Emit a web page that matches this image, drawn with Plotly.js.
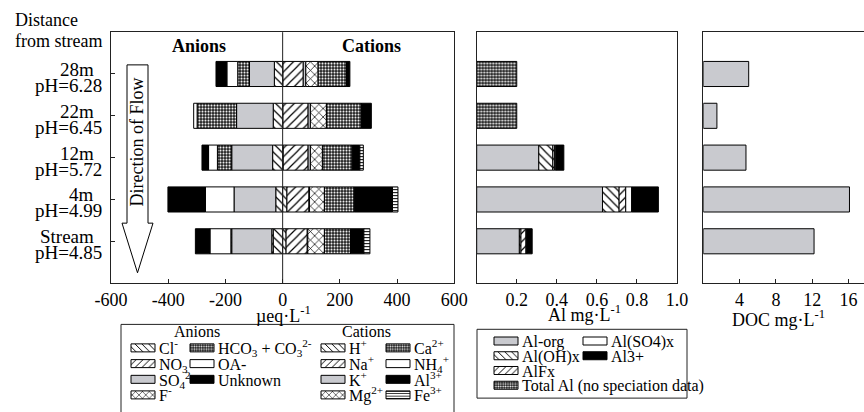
<!DOCTYPE html>
<html><head><meta charset="utf-8">
<script src="https://cdn.plot.ly/plotly-3.0.1.min.js"></script>
<style>html,body{margin:0;padding:0;overflow:hidden;background:#fff}</style>
</head><body><div id="chart"></div>
<script>
// ---------- data ----------
const sites = ['Stream', '4m', '12m', '22m', '28m'];
const siteLabels = ['Stream', '4m', '12m', '22m', '28m'];
const pHLabels = ['pH=4.85', 'pH=4.99', 'pH=5.72', 'pH=6.45', 'pH=6.28'];

// anions, µeq/L (drawn left of zero)
const cl      = [-33, -24, -35, -33, -29];
const no3     = [-5, null, null, null, null];
const so4     = [-140, -146, -143, -128, -87];
const fl      = [-3, null, null, null, null];
const hco3    = [null, null, -50, -138, -41];
const oa      = [-73, -100, -31, -12, -38];
const unknown = [-51, -131, -23, null, -38];
// cations, µeq/L
const hplus = [12, 15, 2, 1, 1];
const na    = [74, 77, 87, 88, 71];
const kplus = [2, 2, 8, 8, 9];
const mg    = [58, 52, 42, 56, 43];
const ca    = [91, 104, 104, 122, 99];
const nh4   = [null, null, null, null, null];
const al3c  = [47, 134, 27, 35, 12];
const fe    = [21, 19, 12, null, null];
// Al species, mg/L
const alOrg   = [0.213, 0.628, 0.31, null, null];
const alOH    = [0.008, 0.083, 0.07, null, null];
const alF     = [0.025, 0.033, 0.008, null, null];
const alSO4   = [0.004, 0.03, 0.007, null, null];
const al3     = [0.027, 0.133, 0.04, null, null];
const alTotal = [null, null, null, 0.2, 0.2];
// DOC, mg/L
const doc = [12.2, 16.1, 4.7, 1.5, 5.0];

const ionTicks = [-600, -400, -200, 0, 200, 400, 600];
const ionTickText = ['-600', '-400', '-200', '0', '200', '400', '600'];
const alTicks = [0.2, 0.4, 0.6, 0.8, 1.0];
const alTickText = ['0.2', '0.4', '0.6', '0.8', '1.0'];
const docTicks = [4, 8, 12, 16];
const docTickText = ['4', '8', '12', '16'];

// ---------- styling ----------
const FONT = 'Liberation Serif, Times New Roman, serif';
const GRAY = '#c9cacf';
const W = 864, H = 412;
const px = x => x / W, py = y => 1 - y / H;

function mk(kind) {
  const line = {color: 'black', width: 1};
  const pat = (shape, size, sol, fg, bg) => ({color: bg || 'white', line, pattern: {shape, size, solidity: sol, fgcolor: fg || 'black', bgcolor: bg || 'white', fillmode: 'replace'}});
  switch (kind) {
    case 'back': return pat('\\', 6, 0.2);
    case 'fwd': return pat('/', 6, 0.2);
    case 'cross': return pat('x', 6, 0.22);
    case 'dots': return pat('.', 3, 0.4, 'white', '#1a1a1a');
    case 'hline': return pat('-', 3, 0.35);
    case 'gray': return {color: GRAY, line};
    case 'white': return {color: 'white', line};
    case 'black': return {color: 'black', line};
  }
}

const legendNames = [];
function bar(x, name, kind, xa, ya, legendPos) {
  const t = {type: 'bar', orientation: 'h', y: sites, x, name, marker: mk(kind), xaxis: xa, yaxis: ya, hoverinfo: 'skip'};
  if (legendPos) {
    const id = legendNames.length === 0 ? 'legend' : 'legend' + (legendNames.length + 1);
    legendNames.push({id, pos: legendPos});
    t.legend = id;
    t.showlegend = true;
  } else t.showlegend = false;
  return t;
}

const data = [
  bar(cl, 'Cl<sup>-</sup>', 'back', 'x', 'y', [131, 354]),
  bar(no3, 'NO<sub>3</sub>', 'fwd', 'x', 'y', [131, 370]),
  bar(so4, 'SO<sub>4</sub><sup>2-</sup>', 'gray', 'x', 'y', [131, 386]),
  bar(fl, 'F<sup>-</sup>', 'cross', 'x', 'y', [131, 402]),
  bar(hco3, 'HCO<sub>3</sub> + CO<sub>3</sub><sup>2-</sup>', 'dots', 'x', 'y', [190, 354]),
  bar(oa, 'OA-', 'white', 'x', 'y', [190, 370]),
  bar(unknown, 'Unknown', 'black', 'x', 'y', [190, 386]),
  bar(hplus, 'H<sup>+</sup>', 'back', 'x', 'y', [321, 354]),
  bar(na, 'Na<sup>+</sup>', 'fwd', 'x', 'y', [321, 370]),
  bar(kplus, 'K<sup>+</sup>', 'gray', 'x', 'y', [321, 386]),
  bar(mg, 'Mg<sup>2+</sup>', 'cross', 'x', 'y', [321, 402]),
  bar(ca, 'Ca<sup>2+</sup>', 'dots', 'x', 'y', [386, 354]),
  bar(nh4, 'NH<sub>4</sub><sup>+</sup>', 'white', 'x', 'y', [386, 370]),
  bar(al3c, 'Al<sup>3+</sup>', 'black', 'x', 'y', [386, 386]),
  bar(fe, 'Fe<sup>3+</sup>', 'hline', 'x', 'y', [386, 402]),
  bar(alOrg, 'Al-org', 'gray', 'x2', 'y2', [494, 347]),
  bar(alOH, 'Al(OH)x', 'back', 'x2', 'y2', [494, 362]),
  bar(alF, 'AlFx', 'fwd', 'x2', 'y2', [494, 377]),
  bar(alSO4, 'Al(SO4)x', 'white', 'x2', 'y2', [583, 347]),
  bar(al3, 'Al3+', 'black', 'x2', 'y2', [583, 362]),
  bar(alTotal, 'Total Al (no speciation data)', 'dots', 'x2', 'y2', [494, 392]),
  bar(doc, 'DOC', 'gray', 'x3', 'y3', null)
];

const yDom = [py(288), py(32.7)];
const axBase = {showline: true, mirror: true, linecolor: '#222', linewidth: 1, showgrid: false, zeroline: false,
  ticks: 'inside', ticklen: 4, tickcolor: '#222', tickfont: {size: 18}};
const yBase = Object.assign({}, axBase, {type: 'category', categoryorder: 'array', categoryarray: sites, range: [-1, 5], showticklabels: false});

const layout = {
  width: W, height: H, margin: {l: 0, r: 0, t: 0, b: 0}, autosize: false,
  paper_bgcolor: 'white', plot_bgcolor: 'white',
  font: {family: FONT, size: 18, color: 'black'},
  barmode: 'relative', bargap: 0.4, showlegend: true,
  xaxis: Object.assign({}, axBase, {domain: [px(111), px(454.3)], range: [-600, 600], tickvals: ionTicks, ticktext: ionTickText, anchor: 'y'}),
  yaxis: Object.assign({}, yBase, {domain: yDom, anchor: 'x'}),
  xaxis2: Object.assign({}, axBase, {domain: [px(476.7), px(677)], range: [0, 1.0], tickvals: alTicks, ticktext: alTickText, anchor: 'y2'}),
  yaxis2: Object.assign({}, yBase, {domain: yDom, anchor: 'x2', ticks: ''}),
  xaxis3: Object.assign({}, axBase, {domain: [px(703.3), 1], range: [0, 17.7], tickvals: docTicks, ticktext: docTickText, anchor: 'y3'}),
  yaxis3: Object.assign({}, yBase, {domain: yDom, anchor: 'x3', ticks: '', mirror: false}),
  shapes: [
    // zero line
    {type: 'line', xref: 'x', yref: 'y domain', x0: 0, x1: 0, y0: 0, y1: 1, line: {color: '#222', width: 1}, layer: 'above'},
    // flow arrow
    {type: 'path', xref: 'paper', yref: 'paper', layer: 'above', fillcolor: 'white', line: {color: 'black', width: 1},
      path: 'M' + px(127) + ',' + py(66) + ' L' + px(148) + ',' + py(66) + ' L' + px(148) + ',' + py(227) +
            ' L' + px(153) + ',' + py(227) + ' L' + px(137.5) + ',' + py(277.5) + ' L' + px(122) + ',' + py(227) +
            ' L' + px(127) + ',' + py(227) + ' Z'},
    // legend boxes
    {type: 'rect', xref: 'paper', yref: 'paper', x0: px(121), x1: px(454), y0: py(420), y1: py(330), line: {color: '#222', width: 1}, fillcolor: 'rgba(0,0,0,0)', layer: 'below'},
    {type: 'rect', xref: 'paper', yref: 'paper', x0: px(477), x1: px(687), y0: py(405), y1: py(335), line: {color: '#222', width: 1}, fillcolor: 'rgba(0,0,0,0)', layer: 'below'}
  ],
  annotations: []
};

// legends
legendNames.forEach(l => {
  layout[l.id] = {x: px(l.pos[0] - 12), xanchor: 'left', y: py(l.pos[1]), yanchor: 'middle',
    bgcolor: 'rgba(0,0,0,0)', borderwidth: 0, font: {size: 16, family: FONT}, tracegroupgap: 0};
});

// site labels
sites.forEach((s, i) => {
  layout.annotations.push({xref: 'paper', yref: 'y', x: px(96), y: s, xanchor: 'right', yanchor: 'middle', yshift: 4.5,
    text: siteLabels[i], showarrow: false, font: {size: 19}});
  layout.annotations.push({xref: 'paper', yref: 'y', x: px(104), y: s, xanchor: 'right', yanchor: 'middle', yshift: -11.5,
    text: pHLabels[i], showarrow: false, font: {size: 19}});
});
const txt = (x, y, text, opts) => Object.assign({xref: 'paper', yref: 'paper', x: px(x), y: py(y), text, showarrow: false,
  xanchor: 'center', yanchor: 'middle', font: {size: 18}}, opts || {});
layout.annotations.push(
  txt(13, 20, 'Distance', {xanchor: 'left'}),
  txt(13, 42, 'from stream', {xanchor: 'left'}),
  txt(199, 47, '<b>Anions</b>'),
  txt(371, 47, '<b>Cations</b>'),
  txt(137, 145, 'Direction of Flow', {textangle: -90}),
  txt(197, 337, 'Anions', {font: {size: 16}}),
  txt(366, 337, 'Cations', {font: {size: 16}}),
  // axis titles
  txt(283, 320, 'µeq·L<sup>-1</sup>'),
  txt(584, 319, 'Al mg·L<sup>-1</sup>'),
  txt(778, 324, 'DOC mg·L<sup>-1</sup>')
);

Plotly.newPlot('chart', data, layout, {staticPlot: true, displayModeBar: false}).then(function (gd) {
  gd.querySelectorAll('.legendpoints path').forEach(function (p) { p.setAttribute('d', 'M-8,4H16V-4H-8Z'); });
});
</script>
</body></html>
